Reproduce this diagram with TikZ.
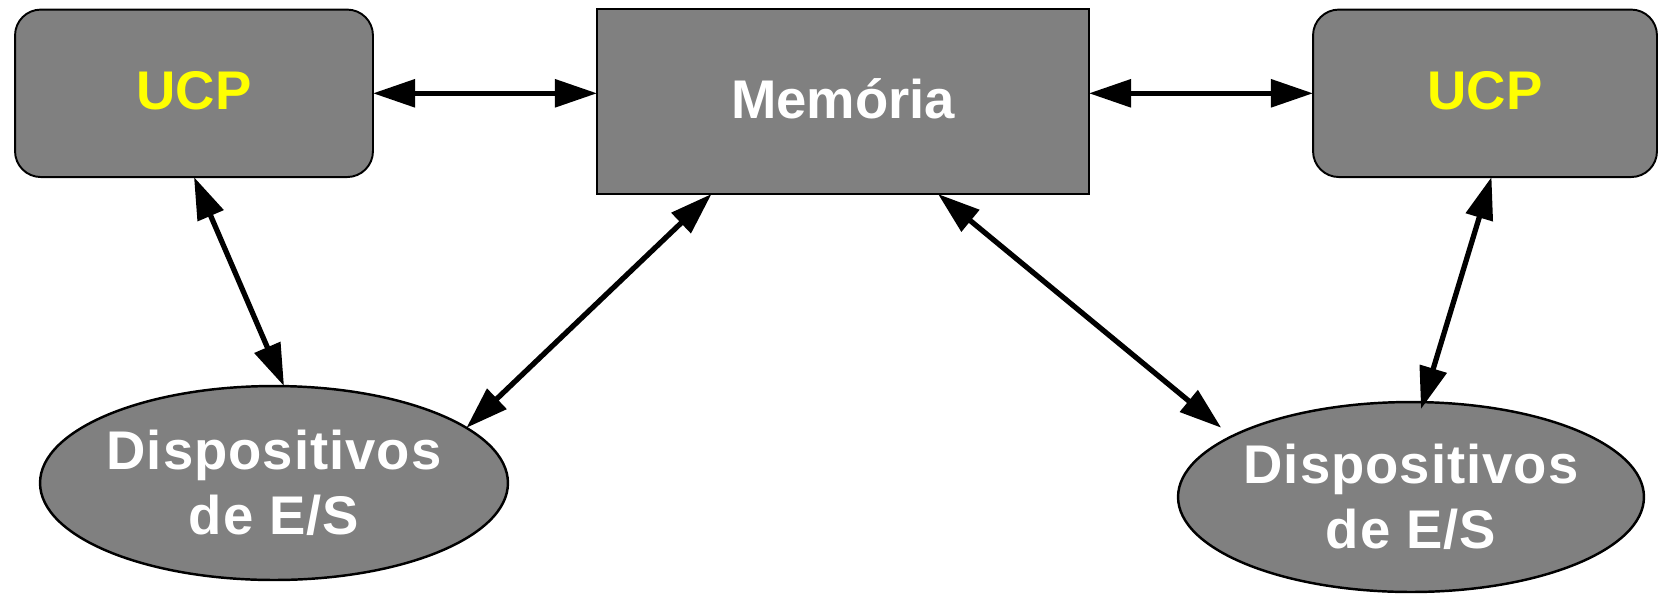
\documentclass[tikz,border=0pt]{standalone}
\usepackage{fontspec}
\setmainfont{Liberation Sans}
\usetikzlibrary{arrows.meta,shapes.geometric}
\definecolor{boxgray}{HTML}{808080}
\definecolor{ucpyellow}{HTML}{FFFF00}
\begin{document}
\begin{tikzpicture}[x=0.02cm,y=-0.02cm,
  box/.style={draw=black, line width=1.1pt, fill=boxgray, inner sep=0pt, outer sep=0pt},
  cpu/.style={box, rounded corners=14.7pt, minimum height=3.35cm},
  memory/.style={box, minimum width=9.84cm, minimum height=3.7cm},
  io/.style={box, ellipse, line width=1.4pt},
  label/.style={inner sep=0pt, font=\fontsize{31}{37}\selectfont\bfseries},
  cputext/.style={label, text=ucpyellow},
  memtext/.style={label, text=white},
  iotext/.style={label, text=white, align=center,
    font=\fontsize{31}{37}\selectfont\bfseries\addfontfeature{LetterSpace=1.8}},
  arr/.style={line width=3pt, {Triangle[length=24pt,width=15.5pt]}-{Triangle[length=24pt,width=15.5pt]}}]
\useasboundingbox (0,0) rectangle (1659,593);
\node[cpu, minimum width=7.16cm] (ucpL) at (194,93.3) {};
\node[cputext] (tUcpL) at ([yshift=0.06cm]ucpL.center) {UCP};
\node[memory] (mem) at (843,101.5) {};
\node[memtext] (tMem) at ([yshift=0.05cm]mem.center) {Memória};
\node[cpu, minimum width=6.88cm] (ucpR) at (1485,93.3) {};
\node[cputext] (tUcpR) at ([yshift=0.06cm]ucpR.center) {UCP};
\node[io, minimum width=9.36cm, minimum height=3.88cm] (ellL) at (274,483) {};
\node[iotext] (txtL) at (ellL.center) {Dispositivos\\de E/S};
\node[io, minimum width=9.32cm, minimum height=3.8cm] (ellR) at (1411,497) {};
\node[iotext] (txtR) at (ellR.center) {Dispositivos\\de E/S};
\draw[arr] (ucpL.east) -- (ucpL.east -| mem.west);
\draw[arr] (mem.east |- ucpR.west) -- (ucpR.west);
\draw[arr] (ucpL.south) -- ([xshift=0.2cm]ellL.north);
\draw[arr] ([xshift=-2.63cm]mem.south) -- (ellL.16.5);
\draw[arr] ([xshift=1.9cm]mem.south) -- ([shift={(-0.32cm,0.12cm)}]ellR.160);
\draw[arr] ([xshift=0.13cm]ucpR.south) -- ([shift={(0.2cm,-0.14cm)}]ellR.north);
\end{tikzpicture}
\end{document}
